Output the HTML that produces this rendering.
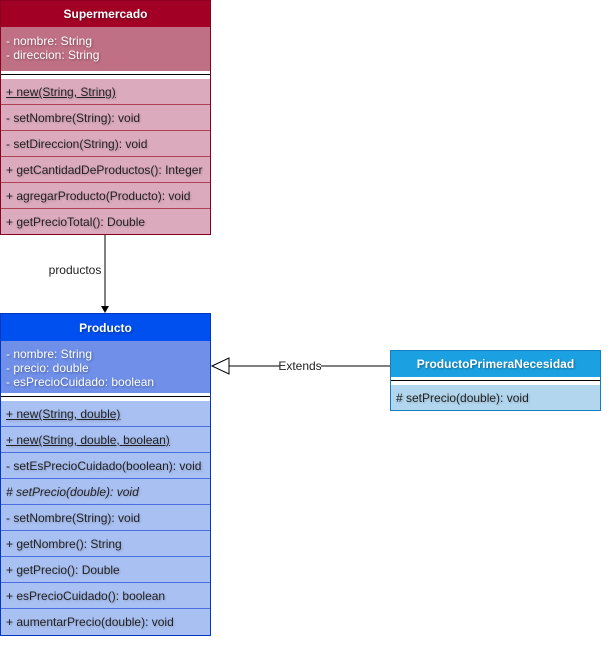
<!DOCTYPE html>
<html><head><meta charset="utf-8"><style>
body{margin:0;width:612px;height:650px;background:#fff;position:relative;overflow:hidden;font-family:"Liberation Sans",Arial,sans-serif;font-size:12px;}
.b{position:absolute;box-sizing:border-box;}
.h{position:absolute;left:0;right:0;color:#fff;font-weight:bold;font-size:12px;text-align:center;text-shadow:1px 1px 2px rgba(0,0,0,.35);}
.a{position:absolute;left:0;right:0;padding:6px 5px;line-height:14px;color:#fff;text-shadow:1px 1px 2px rgba(0,0,0,.35);box-sizing:border-box;}
.sep{position:absolute;left:0;right:0;background:#fff;}
.sep i{position:absolute;left:0;right:0;top:3px;height:1px;background:#000;}
.r{position:absolute;left:0;right:0;height:26px;line-height:27px;padding-left:5px;color:#222;text-shadow:1px 1px 2px rgba(0,0,0,.2);box-sizing:border-box;white-space:nowrap;}
.u{text-decoration:underline;}
</style></head><body>

<div class="b" style="left:0;top:0;width:211px;height:235px;border:1px solid #8a0020;background:#dcaabd;">
 <div class="h" style="top:0;height:26px;line-height:27px;background:#a20025;">Supermercado</div>
 <div class="a" style="top:26px;height:44px;padding-top:7px;background:#bf7085;">- nombre: String<br>- direccion: String</div>
 <div class="sep" style="top:70px;height:8px;"><i></i></div>
 <div class="r u" style="top:78px;border-bottom:1px solid #b04055;">+ new(String, String)</div>
 <div class="r" style="top:104px;border-bottom:1px solid #b04055;">- setNombre(String): void</div>
 <div class="r" style="top:130px;border-bottom:1px solid #b04055;">- setDireccion(String): void</div>
 <div class="r" style="top:156px;border-bottom:1px solid #b04055;">+ getCantidadDeProductos(): Integer</div>
 <div class="r" style="top:182px;border-bottom:1px solid #b04055;">+ agregarProducto(Producto): void</div>
 <div class="r" style="top:208px;">+ getPrecioTotal(): Double</div>
</div>

<div class="b" style="left:0;top:313px;width:211px;height:323px;border:1px solid #0038c0;background:#a9c0f2;">
 <div class="h" style="top:0;height:27px;line-height:28px;background:#0050ef;">Producto</div>
 <div class="a" style="top:27px;height:52px;padding-top:6px;background:#6f8fe8;">- nombre: String<br>- precio: double<br>- esPrecioCuidado: boolean</div>
 <div class="sep" style="top:79px;height:8px;"><i></i></div>
 <div class="r u" style="top:87px;border-bottom:1px solid #4a6ee0;">+ new(String, double)</div>
 <div class="r u" style="top:113px;border-bottom:1px solid #4a6ee0;">+ new(String, double, boolean)</div>
 <div class="r" style="top:139px;border-bottom:1px solid #4a6ee0;">- setEsPrecioCuidado(boolean): void</div>
 <div class="r" style="top:165px;border-bottom:1px solid #4a6ee0;font-style:italic;"># setPrecio(double): void</div>
 <div class="r" style="top:191px;border-bottom:1px solid #4a6ee0;">- setNombre(String): void</div>
 <div class="r" style="top:217px;border-bottom:1px solid #4a6ee0;">+ getNombre(): String</div>
 <div class="r" style="top:243px;border-bottom:1px solid #4a6ee0;">+ getPrecio(): Double</div>
 <div class="r" style="top:269px;border-bottom:1px solid #4a6ee0;">+ esPrecioCuidado(): boolean</div>
 <div class="r" style="top:295px;">+ aumentarPrecio(double): void</div>
</div>

<div class="b" style="left:390px;top:350px;width:211px;height:61px;border:1px solid #1080c0;background:#b1d6ee;">
 <div class="h" style="top:0;height:26px;line-height:26px;background:#1ba1e2;">ProductoPrimeraNecesidad</div>
 <div class="sep" style="top:26px;height:8px;"><i></i></div>
 <div class="r" style="top:34px;"># setPrecio(double): void</div>
</div>

<svg width="612" height="650" style="position:absolute;left:0;top:0;">
 <line x1="105" y1="235" x2="105" y2="308" stroke="#000" stroke-width="1"/>
 <polygon points="101,306 109,306 105,313" fill="#000"/>
 <text x="75" y="274" text-anchor="middle" font-family="Liberation Sans,Arial,sans-serif" font-size="12" fill="#222">productos</text>
 <line x1="229" y1="366" x2="390" y2="366" stroke="#000" stroke-width="1"/>
 <polygon points="212,366 229,358 229,374" fill="#fff" stroke="#000" stroke-width="1"/>
 <rect x="280" y="359" width="41" height="14" fill="#fff"/>
 <text x="300" y="370" text-anchor="middle" font-family="Liberation Sans,Arial,sans-serif" font-size="12" fill="#222">Extends</text>
</svg>
</body></html>
